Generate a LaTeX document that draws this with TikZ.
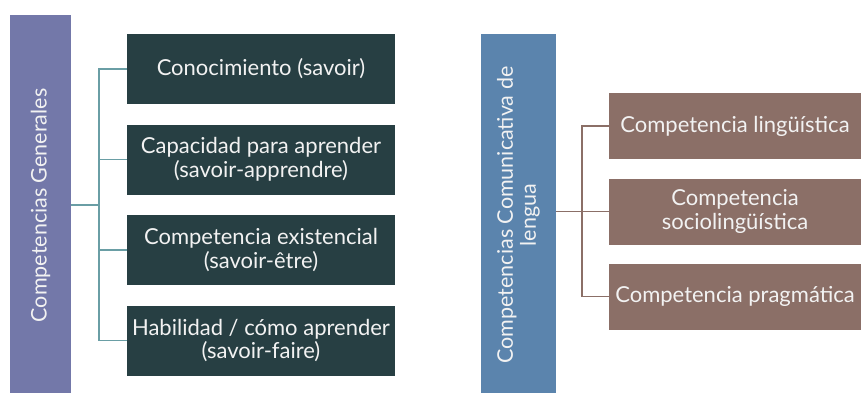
\documentclass[tikz,border=0pt]{standalone}
\usepackage{fontspec}
\setmainfont{Lato}
\definecolor{barpurple}{HTML}{7378A9}
\definecolor{barblue}{HTML}{5B84AD}
\definecolor{boxdark}{HTML}{273F43}
\definecolor{boxbrown}{HTML}{8B6F67}
\definecolor{lineteal}{HTML}{6A9EA5}
\definecolor{txtwhite}{HTML}{F2F2F2}
\begin{document}
\begin{tikzpicture}[x=1pt,y=1pt,
  bar/.style={rotate=90,inner sep=2pt,text=txtwhite,align=center,
    font=\fontsize{21.5}{23}\selectfont},
  dark/.style={fill=boxdark,minimum width=268pt,minimum height=70pt,inner sep=1pt,
    text=txtwhite,align=center,font=\fontsize{22}{23.5}\selectfont},
  brown/.style={fill=boxbrown,minimum width=252pt,minimum height=66pt,inner sep=1pt,
    text=txtwhite,align=center,font=\fontsize{22}{23.5}\selectfont},
  tealline/.style={draw=lineteal,line width=1.6pt},
  brownline/.style={draw=boxbrown,line width=1.4pt}]
\useasboundingbox (0,0) rectangle (866,392);
% left part
\node[bar,fill=barpurple,minimum width=381pt,minimum height=61pt] (gen) at (40.5,186.5) {Competencias Generales};
\node[dark] (k1) at (261,323) {Conocimiento (savoir)};
\node[dark] (k2) at (261,232.5) {Capacidad para aprender\\(savoir-apprendre)};
\node[dark] (k3) at (261,142) {Competencia existencial\\(savoir-être)};
\node[dark] (k4) at (261,51.5) {Habilidad / cómo aprender\\(savoir-faire)};
\coordinate (gj) at (99,187);
\draw[tealline] (gen.south |- gj) -- (gj);
\draw[tealline] (k1.west) -| (gj);
\draw[tealline] (k2.west) -| (gj);
\draw[tealline] (k3.west) -| (gj);
\draw[tealline] (k4.west) -| (gj);
% right part
\node[bar,fill=barblue,minimum width=362pt,minimum height=75pt] (com) at (518.5,177) {Competencias Comunicativa de\\lengua};
\node[brown] (l1) at (735,266) {Competencia lingüística};
\node[brown] (l2) at (735,180.5) {Competencia\\sociolingüística};
\node[brown] (l3) at (735,95.5) {Competencia pragmática};
\coordinate (cj) at (582,180.5);
\draw[brownline] (com.south |- cj) -- (cj);
\draw[brownline] (l1.west) -| (cj);
\draw[brownline] (l2.west) -- (cj);
\draw[brownline] (l3.west) -| (cj);
\end{tikzpicture}
\end{document}
